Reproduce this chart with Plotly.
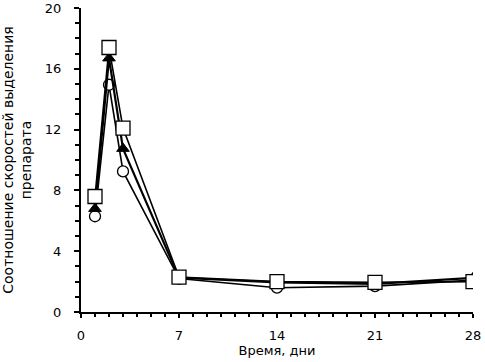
import plotly.graph_objects as go

days = [1, 2, 3, 7, 14, 21, 28]
circle_vals = [6.3, 14.95, 9.25, 2.2, 1.6, 1.7, 2.1]
triangle_vals = [6.8, 16.7, 10.75, 2.25, 1.95, 1.85, 2.25]
square_vals = [7.6, 17.4, 12.1, 2.3, 2.0, 1.95, 2.0]

x_ticks = [0, 7, 14, 21, 28]
y_ticks = [0, 4, 8, 12, 16, 20]

fig = go.Figure()
fig.add_trace(go.Scatter(x=days, y=circle_vals, mode="lines+markers",
                         line=dict(color="black", width=1.6),
                         marker=dict(symbol="circle", size=11, color="white",
                                     line=dict(color="black", width=1.3))))
fig.add_trace(go.Scatter(x=days, y=triangle_vals, mode="lines+markers",
                         line=dict(color="black", width=2.2),
                         marker=dict(symbol="triangle-up", size=11, color="black",
                                     line=dict(color="black", width=1))))
fig.add_trace(go.Scatter(x=days, y=square_vals, mode="lines+markers",
                         line=dict(color="black", width=1.6),
                         marker=dict(symbol="square", size=14, color="white",
                                     line=dict(color="black", width=1.3))))

font = dict(family="DejaVu Sans", size=13, color="black")
fig.update_layout(
    width=485, height=362,
    margin=dict(l=81, r=12, t=8, b=50),
    plot_bgcolor="white", paper_bgcolor="white",
    showlegend=False,
    font=font,
    xaxis=dict(range=[0, 28], tickvals=x_ticks, showline=True, linecolor="black",
               linewidth=2, ticks="outside", ticklen=4, tickwidth=2, tickcolor="black",
               showgrid=False, zeroline=False, automargin=False,
               ticklabelstandoff=6,
               minor=dict(dtick=1, ticks="outside", ticklen=3, tickwidth=2, tickcolor="black"),
               title=dict(text="Время, дни", standoff=4, font=dict(size=13))),
    yaxis=dict(range=[0, 20], tickvals=y_ticks, showline=True, linecolor="black",
               linewidth=2, ticks="outside", ticklen=5, tickwidth=2, tickcolor="black",
               showgrid=False, zeroline=False, automargin=False,
               ticklabelstandoff=10,
               minor=dict(dtick=1, ticks="outside", ticklen=4, tickwidth=2, tickcolor="black"),
               title=dict(text="Соотношение скоростей выделения<br>препарата", standoff=14,
                          font=dict(size=14))),
)
fig.write_html("out.html", config={"displayModeBar": False},
               post_script="document.body.style.margin='0';")
